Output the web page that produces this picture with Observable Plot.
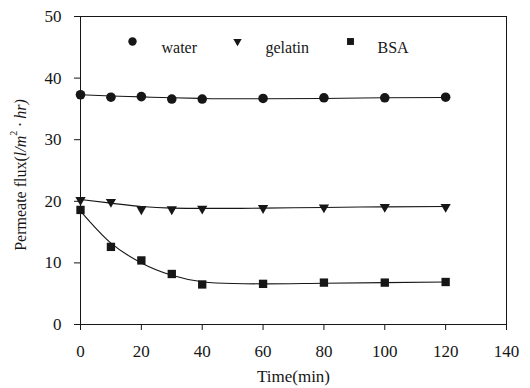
<!DOCTYPE html>
<html>
<head>
<meta charset="utf-8">
<script src="https://cdn.jsdelivr.net/npm/d3@7"></script>
<script src="https://cdn.jsdelivr.net/npm/@observablehq/plot@0.6"></script>
<style>
  body { margin: 0; background: #fff; }
  #chart { width: 530px; height: 388px; }
</style>
</head>
<body>
<div id="chart"></div>
<script>
// Measured permeate flux (l/m²·hr) over filtration time (min)
const time = [0, 10, 20, 30, 40, 60, 80, 100, 120];
const water = [37.3, 36.9, 37.0, 36.6, 36.6, 36.7, 36.8, 36.8, 36.9];
const gelatin = [20.2, 19.9, 18.7, 18.7, 18.8, 18.9, 19.0, 19.1, 19.1];
const bsa = [18.6, 12.6, 10.4, 8.2, 6.5, 6.6, 6.8, 6.8, 6.9];

// Fitted trend lines
const fitTime = [0, 10, 20, 30, 40, 50, 60, 80, 100, 120];
const waterFit = [37.3, 37.1, 36.95, 36.8, 36.7, 36.65, 36.65, 36.7, 36.8, 36.85];
const gelatinFit = [20.3, 19.7, 19.15, 18.9, 18.85, 18.85, 18.9, 19.0, 19.1, 19.15];
const bsaFit = [18.4, 13.2, 10.0, 8.0, 6.95, 6.65, 6.6, 6.7, 6.8, 6.9];

const seriesNames = ["water", "gelatin", "BSA"];
const xTicks = [0, 20, 40, 60, 80, 100, 120, 140];
const yTicks = [0, 10, 20, 30, 40, 50];

// Downward-pointing triangle symbol
const triangleDown = {
  draw(context, size) {
    const y = -Math.sqrt(size / (Math.sqrt(3) * 3));
    context.moveTo(0, -y * 2);
    context.lineTo(-Math.sqrt(3) * y, y);
    context.lineTo(Math.sqrt(3) * y, y);
    context.closePath();
  }
};
const symbols = ["circle", triangleDown, "square"];
const dotR = [4.8, 3.8, 4.7];
const legendR = [4.2, 3.1, 3.9];

const rows = [];
[water, gelatin, bsa].forEach((vals, s) =>
  vals.forEach((v, i) => rows.push({series: seriesNames[s], t: time[i], flux: v})));
const fitRows = [];
[waterFit, gelatinFit, bsaFit].forEach((vals, s) =>
  vals.forEach((v, i) => fitRows.push({series: seriesNames[s], t: fitTime[i], flux: v})));

const ink = "#161616";
const legendDx = [52, 157, 270];
const legendTextDx = [81, 185, 297];

const marks = [
  Plot.frame({stroke: ink, strokeWidth: 1}),
  Plot.axisX({ticks: xTicks, tickSize: 6, tickPadding: 14, fontSize: 17, label: null, stroke: ink}),
  Plot.axisY({ticks: yTicks, tickSize: 6, tickPadding: 13, fontSize: 17, label: null, stroke: ink}),
  Plot.line(fitRows, {x: "t", y: "flux", z: "series", curve: "monotone-x", stroke: ink, strokeWidth: 1.1}),
];
seriesNames.forEach((name, s) => {
  marks.push(Plot.dot(rows.filter(d => d.series === name),
    {x: "t", y: "flux", symbol: () => symbols[s], r: dotR[s], fill: ink, stroke: "none"}));
  marks.push(Plot.dot([name], {frameAnchor: "top-left", dx: legendDx[s], dy: 25,
    symbol: () => symbols[s], r: legendR[s], fill: ink, stroke: "none"}));
  marks.push(Plot.text([name], {text: d => d, frameAnchor: "top-left", dx: legendTextDx[s], dy: 25,
    textAnchor: "start", fontSize: 16, fill: ink}));
});
marks.push(Plot.text(["Time(min)"], {text: d => d, frameAnchor: "bottom", dy: 57, fontSize: 17, fill: ink}));

const chart = Plot.plot({
  width: 530,
  height: 388,
  marginLeft: 80,
  marginRight: 24,
  marginTop: 16,
  marginBottom: 64,
  style: {fontFamily: "'Liberation Serif', 'Times New Roman', serif", fontSize: "16px", background: "#fff", color: ink},
  x: {domain: [0, 140]},
  y: {domain: [0, 50]},
  marks
});

// Y-axis title with italic units and a superscript
const svg = d3.select(chart);
const yLabel = svg.append("text")
  .attr("transform", "translate(22,175) rotate(-90)")
  .attr("text-anchor", "middle")
  .attr("dominant-baseline", "middle")
  .attr("fill", ink)
  .attr("font-size", 16);
yLabel.append("tspan").text("Permeate flux(");
yLabel.append("tspan").attr("font-style", "italic").text("l/m");
yLabel.append("tspan").attr("font-size", 10).attr("dy", -7).text("2");
yLabel.append("tspan").attr("font-style", "italic").attr("dy", 7).text(" · hr)");

document.getElementById("chart").append(chart);
</script>
</body>
</html>
